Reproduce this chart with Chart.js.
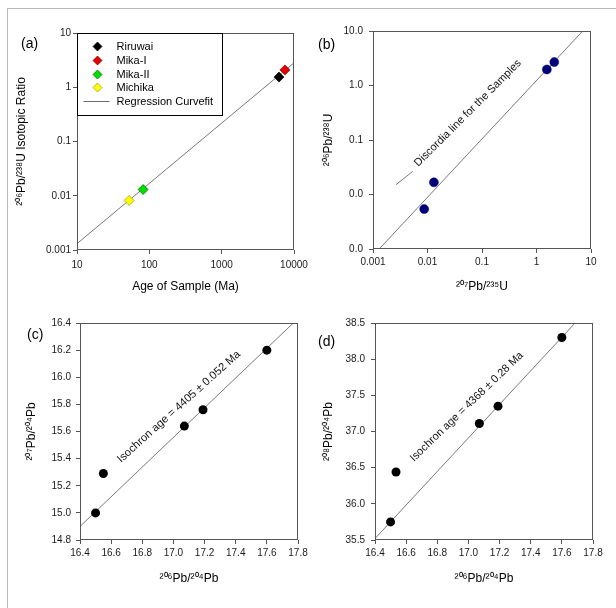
<!DOCTYPE html>
<html><head><meta charset="utf-8">
<script src="https://cdn.jsdelivr.net/npm/chart.js@4.4.1/dist/chart.umd.min.js"></script>
<style>
html,body{margin:0;padding:0;background:#fff;}
#wrap{position:relative;width:616px;height:608px;overflow:hidden;background:#fff;}
canvas{position:absolute;}
#frame{position:absolute;left:7px;top:8px;width:640px;height:640px;border-left:1px solid #b8b8b8;border-top:1px solid #b8b8b8;}
</style></head><body>
<div id="wrap">
<div id="frame"></div>
<canvas id="ca" width="308" height="304" style="left:0;top:0;width:308px;height:304px"></canvas>
<canvas id="cb" width="308" height="304" style="left:308px;top:0;width:308px;height:304px"></canvas>
<canvas id="cc" width="308" height="304" style="left:0;top:304px;width:308px;height:304px"></canvas>
<canvas id="cd" width="308" height="304" style="left:308px;top:304px;width:308px;height:304px"></canvas>
</div>
<script>
// ---------- data ----------
// (a) 206Pb/238U ratio vs age
const aSamples = ['Riruwai', 'Mika-I', 'Mika-II', 'Michika'];
const aAge = [6200, 7500, 82, 52.6];
const aRatio = [1.54, 2.09, 0.013, 0.0082];
const aFitAge = [10, 10000];
const aFitRatio = [0.00131, 2.82];
const aXTicks = [10, 100, 1000, 10000];
const aXLabels = ['10', '100', '1000', '10000'];
const aYTicks = [0.001, 0.01, 0.1, 1, 10];
const aYLabels = ['0.001', '0.01', '0.1', '1', '10'];

// (b) concordia-type plot
const b207_235 = [0.0087, 0.0131, 1.55, 2.12];
const b206_238 = [0.0054, 0.0167, 1.97, 2.69];
const bLineX = [0.0013, 7.05];
const bLineY = [0.001, 10];
const bLeaderX = [0.00264, 0.00534];
const bLeaderY = [0.0151, 0.0265];
const bXTicks = [0.001, 0.01, 0.1, 1, 10];
const bXLabels = ['0.001', '0.01', '0.1', '1', '10'];
const bYTicks = [0.001, 0.01, 0.1, 1, 10];
const bYLabels = ['0.0', '0.0', '0.1', '1.0', '10.0'];

// (c) 207Pb/204Pb vs 206Pb/204Pb
const c206_204 = [16.5, 16.55, 17.07, 17.19, 17.6];
const c207_204 = [15.0, 15.29, 15.64, 15.76, 16.2];
const cFitX = [16.4, 17.77];
const cFitY = [14.9, 16.4];
const cXTicks = [16.4, 16.6, 16.8, 17.0, 17.2, 17.4, 17.6, 17.8];
const cXLabels = ['16.4', '16.6', '16.8', '17.0', '17.2', '17.4', '17.6', '17.8'];
const cYTicks = [14.8, 15.0, 15.2, 15.4, 15.6, 15.8, 16.0, 16.2, 16.4];
const cYLabels = ['14.8', '15.0', '15.2', '15.4', '15.6', '15.8', '16.0', '16.2', '16.4'];

// (d) 208Pb/204Pb vs 206Pb/204Pb
const d206_204 = [16.5, 16.535, 17.07, 17.19, 17.6];
const d208_204 = [35.75, 36.44, 37.11, 37.35, 38.3];
const dFitX = [16.4, 17.685];
const dFitY = [35.52, 38.5];
const dXTicks = [16.4, 16.6, 16.8, 17.0, 17.2, 17.4, 17.6, 17.8];
const dXLabels = ['16.4', '16.6', '16.8', '17.0', '17.2', '17.4', '17.6', '17.8'];
const dYTicks = [35.5, 36.0, 36.5, 37.0, 37.5, 38.0, 38.5];
const dYLabels = ['35.5', '36.0', '36.5', '37.0', '37.5', '38.0', '38.5'];

// ---------- helpers ----------
Chart.defaults.font.family = '"Liberation Sans", Arial, sans-serif';
Chart.defaults.color = '#111';
const FONT = '"Liberation Sans", Arial, sans-serif';

const pts = (xs, ys) => xs.map((x, i) => ({x: x, y: ys[i]}));

function axis(type, min, max, ticks, labels, title, pos, fit, titlePad, labPad) {
  return {
    type: type, min: min, max: max, position: pos,
    afterBuildTicks: s => { s.ticks = ticks.map(v => ({value: v})); },
    afterFit: s => {
      if (pos === 'left') s.width = fit; else s.height = fit;
      s.paddingLeft = 0; s.paddingRight = 0; s.paddingTop = 0; s.paddingBottom = 0;
    },
    ticks: {autoSkip: false, maxRotation: 0, minRotation: 0, padding: labPad, color: '#1a1a1a',
      font: {size: 10}, callback: (v, i) => labels[i]},
    grid: {display: true, drawOnChartArea: false, drawTicks: true, tickLength: 4, color: '#555', tickColor: '#555'},
    border: {display: false},
    title: {display: true, text: title, color: '#000', font: {size: 12},
      padding: pos === 'left' ? {top: titlePad, bottom: 0} : {top: 0, bottom: titlePad}}
  };
}

const deco = {
  id: 'deco',
  afterDraw(chart, args, o) {
    const ctx = chart.ctx, ca = chart.chartArea;
    ctx.save();
    ctx.strokeStyle = '#555';
    ctx.lineWidth = 1;
    ctx.strokeRect(Math.round(ca.left) + 0.5, Math.round(ca.top) + 0.5,
      Math.round(ca.right - ca.left) - 1, Math.round(ca.bottom - ca.top) - 1);
    ctx.fillStyle = '#000';
    ctx.font = '14px ' + FONT;
    ctx.textAlign = 'left';
    ctx.textBaseline = 'middle';
    ctx.fillText(o.label, o.labelX, o.labelY);
    (o.texts || []).forEach(t => {
      const x = chart.scales.x.getPixelForValue(t.x);
      const y = chart.scales.y.getPixelForValue(t.y);
      ctx.save();
      ctx.translate(x, y);
      ctx.rotate(-t.angle * Math.PI / 180);
      ctx.font = t.size + 'px ' + FONT;
      ctx.textBaseline = 'alphabetic';
      ctx.fillStyle = '#111';
      ctx.fillText(t.text, 0, 0);
      ctx.restore();
    });
    if (o.legend) {
      const L = Math.round(ca.left) + 0.5, T = Math.round(ca.top) + 0.5;
      ctx.fillStyle = '#fff';
      ctx.fillRect(L, T, 145, 82);
      ctx.strokeStyle = '#000';
      ctx.strokeRect(L, T, 145, 82);
      const rows = [13, 27, 41, 54, 68];
      ctx.font = '11px ' + FONT;
      ctx.textBaseline = 'middle';
      chart.data.datasets.forEach((ds, i) => {
        const y = T + rows[i];
        if (ds.showLine) {
          ctx.strokeStyle = ds.borderColor;
          ctx.lineWidth = 1;
          ctx.beginPath(); ctx.moveTo(L + 6, y); ctx.lineTo(L + 32, y); ctx.stroke();
        } else {
          const cx = L + 20, r = 4.5;
          ctx.beginPath();
          ctx.moveTo(cx, y - r); ctx.lineTo(cx + r, y); ctx.lineTo(cx, y + r); ctx.lineTo(cx - r, y); ctx.closePath();
          ctx.fillStyle = ds.backgroundColor; ctx.fill();
          ctx.strokeStyle = ds.borderColor; ctx.lineWidth = 0.7; ctx.stroke();
        }
        ctx.fillStyle = '#000';
        ctx.fillText(ds.label, L + 39, y);
      });
    }
    ctx.restore();
  }
};

function base(scales, padding, decoOpts) {
  return {
    responsive: false, animation: false, devicePixelRatio: 1,
    layout: {padding: padding},
    scales: scales,
    plugins: {legend: {display: false}, tooltip: {enabled: false}, deco: decoOpts}
  };
}

const lineStyle = {showLine: true, pointRadius: 0, borderColor: '#6a6a6a', borderWidth: 0.9, fill: false};

// ---------- (a) ----------
const aColors = ['#000000', '#e60000', '#00e000', '#ffff00'];
const aBorders = ['#000000', '#7a0000', '#006000', '#9a9a00'];
new Chart(document.getElementById('ca'), {
  type: 'scatter',
  data: {datasets: aSamples.map((s, i) => ({
    label: s, data: [{x: aAge[i], y: aRatio[i]}], pointStyle: 'rectRot', pointRadius: 5,
    backgroundColor: aColors[i], borderColor: aBorders[i], borderWidth: 0.7
  })).concat([Object.assign({label: 'Regression Curvefit', data: pts(aFitAge, aFitRatio), order: 10}, lineStyle)])},
  options: base({
    x: axis('logarithmic', 10, 10000, aXTicks, aXLabels, 'Age of Sample (Ma)', 'bottom', 54, 9.8, 5),
    y: axis('logarithmic', 0.001, 10, aYTicks, aYLabels, '²⁰⁶Pb/²³⁸U Isotopic Ratio', 'left', 77, 14.8, 2)
  }, {top: 33, right: 14, left: 0, bottom: 0}, {label: '(a)', labelX: 21, labelY: 44, legend: true}),
  plugins: [deco]
});

// ---------- (b) ----------
new Chart(document.getElementById('cb'), {
  type: 'scatter',
  data: {datasets: [
    {label: 'Samples', data: pts(b207_235, b206_238), pointRadius: 4.5, backgroundColor: '#00007a', borderColor: '#00005a', borderWidth: 0.5},
    Object.assign({label: 'Discordia', data: pts(bLineX, bLineY)}, lineStyle),
    Object.assign({label: 'Leader', data: pts(bLeaderX, bLeaderY)}, lineStyle)
  ]},
  options: base({
    x: axis('logarithmic', 0.001, 10, bXTicks, bXLabels, '²⁰⁷Pb/²³⁵U', 'bottom', 55, 9.8, 3),
    y: axis('logarithmic', 0.001, 10, bYTicks, bYLabels, '²⁰⁶Pb/²³⁸U', 'left', 65, 13.8, 6)
  }, {top: 31, right: 25, left: 0, bottom: 0}, {label: '(b)', labelX: 10, labelY: 45,
    texts: [{text: 'Discordia line for the Samples', x: 0.0068, y: 0.032, angle: 45, size: 11}]}),
  plugins: [deco]
});

// ---------- (c) ----------
new Chart(document.getElementById('cc'), {
  type: 'scatter',
  data: {datasets: [
    {label: 'Samples', data: pts(c206_204, c207_204), pointRadius: 4.5, backgroundColor: '#000', borderColor: '#000', borderWidth: 0},
    Object.assign({label: 'Isochron', data: pts(cFitX, cFitY)}, lineStyle)
  ]},
  options: base({
    x: axis('linear', 16.4, 17.8, cXTicks, cXLabels, '²⁰⁶Pb/²⁰⁴Pb', 'bottom', 68, 21.8, 3),
    y: axis('linear', 14.8, 16.4, cYTicks, cYLabels, '²⁰⁷Pb/²⁰⁴Pb', 'left', 80, 24.8, 5)
  }, {top: 19, right: 10, left: 0, bottom: 0}, {label: '(c)', labelX: 27, labelY: 31,
    texts: [{text: 'Isochron age = 4405 ± 0.052 Ma', x: 16.664, y: 15.368, angle: 42, size: 11.2}]}),
  plugins: [deco]
});

// ---------- (d) ----------
new Chart(document.getElementById('cd'), {
  type: 'scatter',
  data: {datasets: [
    {label: 'Samples', data: pts(d206_204, d208_204), pointRadius: 4.5, backgroundColor: '#000', borderColor: '#000', borderWidth: 0},
    Object.assign({label: 'Isochron', data: pts(dFitX, dFitY)}, lineStyle)
  ]},
  options: base({
    x: axis('linear', 16.4, 17.8, dXTicks, dXLabels, '²⁰⁶Pb/²⁰⁴Pb', 'bottom', 68, 21.8, 3),
    y: axis('linear', 35.5, 38.5, dYTicks, dYLabels, '²⁰⁸Pb/²⁰⁴Pb', 'left', 67, 13.8, 6)
  }, {top: 19, right: 23, left: 0, bottom: 0}, {label: '(d)', labelX: 10, labelY: 38,
    texts: [{text: 'Isochron age = 4368 ± 0.28 Ma', x: 16.65, y: 36.58, angle: 44, size: 11}]}),
  plugins: [deco]
});
</script>
</body></html>
